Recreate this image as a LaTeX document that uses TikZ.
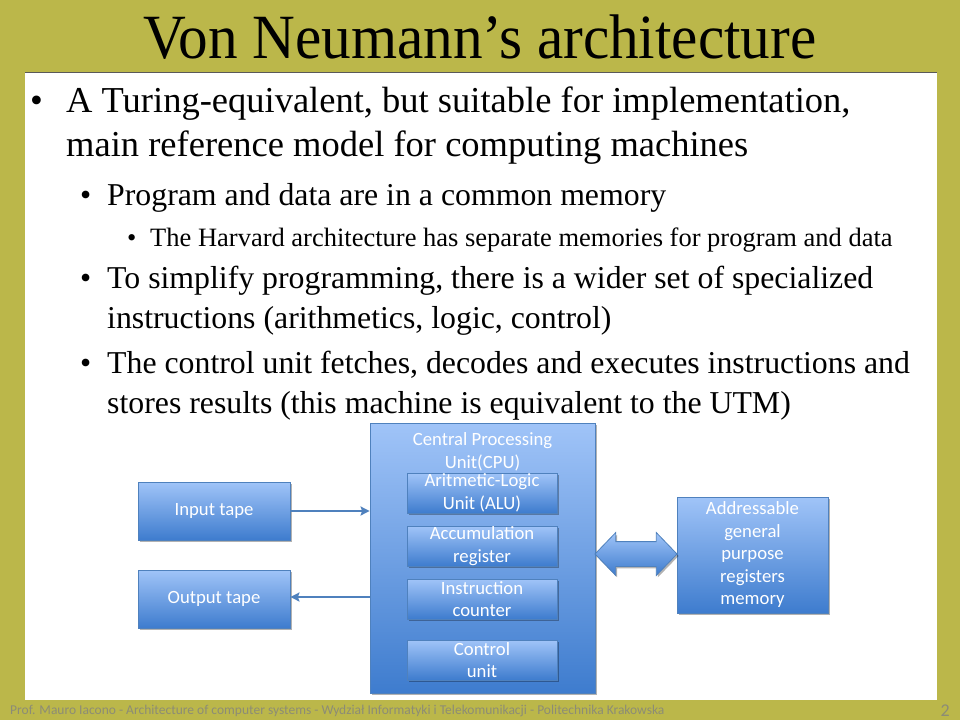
\documentclass[tikz,border=0pt]{standalone}
\usepackage{fontspec}
\setmainfont{Liberation Serif}
\newfontfamily\boxfont{Carlito}
\usetikzlibrary{arrows.meta, shapes.arrows, shadows}

\definecolor{slidebg}{RGB}{187,183,74}
\definecolor{boxtop}{RGB}{160,196,248}
\definecolor{boxbot}{RGB}{62,124,206}
\definecolor{boxline}{RGB}{79,129,189}
\definecolor{footgray}{RGB}{140,140,118}

\begin{document}
\begin{tikzpicture}[x=1pt, y=-1pt,
    bluebox/.style={draw=boxline, line width=0.8pt, top color=boxtop, bottom color=boxbot,
      inner sep=0pt, text=white, align=center, font=\boxfont\fontsize{18.7}{22.5}\selectfont,
      drop shadow={shadow xshift=1.5pt, shadow yshift=-2pt, opacity=0.3, fill=black}},
    subbox/.style={bluebox, minimum width=150pt, minimum height=40pt},
    tapebox/.style={bluebox, minimum width=152pt, minimum height=58pt},
    tapelink/.style={draw=boxline, line width=2.6pt, -{Stealth[length=9pt, width=9pt, inset=1.5pt]}},
    lvla/.style={anchor=base west, inner sep=0pt, font=\fontsize{36.5}{44}\selectfont},
    lvlb/.style={anchor=base west, inner sep=0pt, font=\fontsize{31.8}{40}\selectfont},
    lvlc/.style={anchor=base west, inner sep=0pt, font=\fontsize{26.5}{30}\selectfont}]
  \useasboundingbox (0,0) rectangle (960,720);

  % Slide background and white panel
  \fill[slidebg] (0,0) rectangle (960,720);
  \fill[white] (25,72) rectangle (937,700);
  \draw[gray!70!black, line width=0.8pt] (25,72) -- (937,72);

  % Title
  \node (title) at (480,37) {\scalebox{0.94}[1]{\fontsize{63}{63}\selectfont Von Neumann’s architecture}};

  % Bullet text
  \node[lvla] at (30,112) {•};
  \node[lvla] (pa1) at (66,112) {A Turing-equivalent, but suitable for implementation,};
  \node[lvla] (pa2) at (66,156) {main reference model for computing machines};
  \node[lvlb] at (80,205) {•};
  \node[lvlb] (pb1) at (107,205) {Program and data are in a common memory};
  \node[lvlc] at (127,246) {•};
  \node[lvlc] (pc1) at (150,246) {The Harvard architecture has separate memories for program and data};
  \node[lvlb] at (80,288) {•};
  \node[lvlb] (pd1) at (107,288) {To simplify programming, there is a wider set of specialized};
  \node[lvlb] (pd2) at (107,328) {instructions (arithmetics, logic, control)};
  \node[lvlb] at (80,373) {•};
  \node[lvlb] (pe1) at (107,373) {The control unit fetches, decodes and executes instructions and};
  \node[lvlb] (pe2) at (107,413) {stores results (this machine is equivalent to the UTM)};

  % CPU and its units
  \node[bluebox, minimum width=225pt, minimum height=270pt] (cpu) at (482.5,558) {};
  \node[text=white, align=center, font=\boxfont\fontsize{18.7}{22.5}\selectfont] (cputitle)
    at (482.5,452) {Central Processing\\Unit(CPU)};
  \node[subbox] (alu) at (482,493) {Aritmetic-Logic\\Unit (ALU)};
  \node[subbox] (acc) at (482,546) {Accumulation\\register};
  \node[subbox] (ic) at (482,599) {Instruction\\counter};
  \node[subbox] (cu) at (482,660) {Control\\unit};

  % Tapes
  \node[tapebox] (input) at (214,511) {Input tape};
  \node[tapebox] (output) at (214,599) {Output tape};
  \draw[tapelink] (input.east) -- (input.east -| cpu.west);
  \draw[tapelink] ([yshift=2pt]output.east -| cpu.west) -- ([yshift=2pt]output.east);

  % Memory
  \node[bluebox, minimum width=151pt, minimum height=116pt] (mem) at (752.5,555)
    {Addressable\\general\\purpose\\registers\\memory};
  \node[bluebox, double arrow, double arrow head extend=9pt, double arrow tip angle=92,
    inner xsep=0pt, inner ysep=12pt, minimum height=82pt] (bus) at (636,554) {};

  % Footer
  \node[anchor=base west, inner sep=0pt, text=footgray, font=\boxfont\fontsize{13.5}{13.5}\selectfont] (foot)
    at (10,714) {Prof. Mauro Iacono - Architecture of computer systems - Wydział Informatyki i Telekomunikacji - Politechnika Krakowska};
  \node[anchor=base east, inner sep=0pt, text=footgray, font=\boxfont\fontsize{18}{18}\selectfont] (pagenum)
    at (950,716) {2};
\end{tikzpicture}
\end{document}
